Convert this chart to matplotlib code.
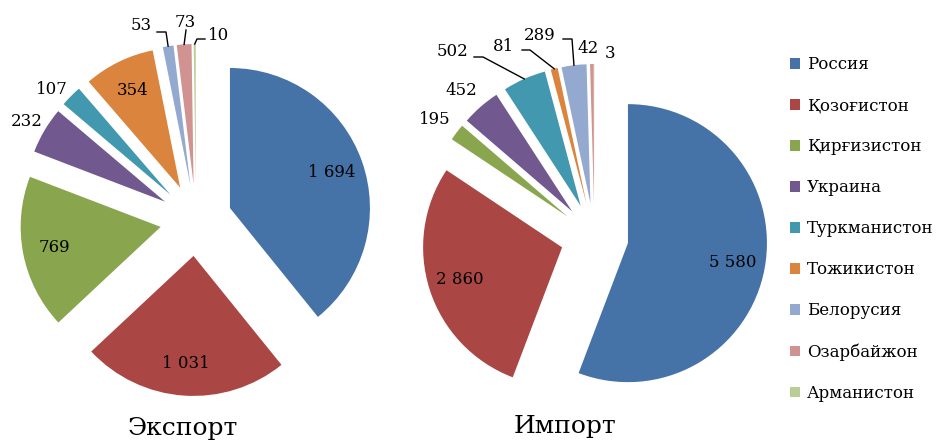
import matplotlib.pyplot as plt
import numpy as np

plt.rcParams["font.family"] = "DejaVu Serif"

# data
countries = ["Россия", "Қозоғистон", "Қирғизистон", "Украина", "Туркманистон",
             "Тожикистон", "Белорусия", "Озарбайжон", "Арманистон"]
export_vals = [1694, 1031, 769, 232, 107, 354, 53, 73, 10]
import_vals = [5580, 2860, 195, 452, 502, 81, 289, 42, 3]
colors = ["#4572A7", "#AA4643", "#89A54E", "#71588F", "#4198AF",
          "#DB843D", "#93A9CF", "#D19392", "#B9CD96"]

W, H = 944, 443
fig = plt.figure(figsize=(W / 100, H / 100), dpi=100)
ax = fig.add_axes([0, 0, 1, 1])


def fmt(v):
    return f"{v:,}".replace(",", " ")


def draw_pie(vals, center, r, expl, inside, outside, leaders):
    # center / label positions are in screen pixels (y from top)
    wedges, _ = ax.pie(vals, colors=colors, startangle=90, counterclock=False,
                       center=(center[0], H - center[1]), radius=r,
                       explode=[expl] * len(vals), wedgeprops=dict(linewidth=0))
    for i, w in enumerate(wedges):
        mid = np.deg2rad((w.theta1 + w.theta2) / 2)
        cx, cy = w.center
        if i in inside:
            ax.text(cx + 0.77 * r * np.cos(mid), cy + 0.77 * r * np.sin(mid),
                    fmt(vals[i]), ha="center", va="center", fontsize=12)
        elif i in outside:
            lx, ly = outside[i]
            ax.text(lx, H - ly, fmt(vals[i]), ha="center", va="center", fontsize=12)
        if i in leaders:
            sx, sy, ex = leaders[i]
            tx, ty = cx + r * np.cos(mid), cy + r * np.sin(mid)
            ax.plot([sx, ex, tx], [H - sy, H - sy, ty], color="black", lw=1)
    return wedges


# Export
wedges = draw_pie(export_vals, (196, 220), 140, 36,
                  inside=[0, 1, 2, 5],
                  outside={3: (27, 121), 4: (52, 89), 6: (141, 25), 7: (185, 22), 8: (219, 35)},
                  leaders={6: (157, 32, 166), 7: (186, 30, 186), 8: (205, 39, 197)})
# Import
draw_pie(import_vals, (594.5, 237), 139, 34,
         inside=[0, 1],
         outside={2: (435, 119), 3: (461, 90), 4: (453, 51), 5: (504, 46),
                  6: (540, 35), 7: (588, 48), 8: (610, 53)},
         leaders={4: (474, 57, 483), 5: (522, 50, 530), 6: (563, 39, 572)})

ax.text(183, H - 428, "Экспорт", fontsize=18, ha="center", va="center")
ax.text(565, H - 427, "Импорт", fontsize=18, ha="center", va="center")

ax.legend(wedges, countries, loc="center left", bbox_to_anchor=(790 / W, 1 - 229 / H),
          frameon=False, fontsize=12, handlelength=0.6, handleheight=0.6,
          handletextpad=0.4, labelspacing=1.44, borderpad=0, borderaxespad=0)

ax.set_xlim(0, W)
ax.set_ylim(0, H)
ax.set_aspect("auto")
ax.axis("off")

fig.savefig("out.png", dpi=100)
